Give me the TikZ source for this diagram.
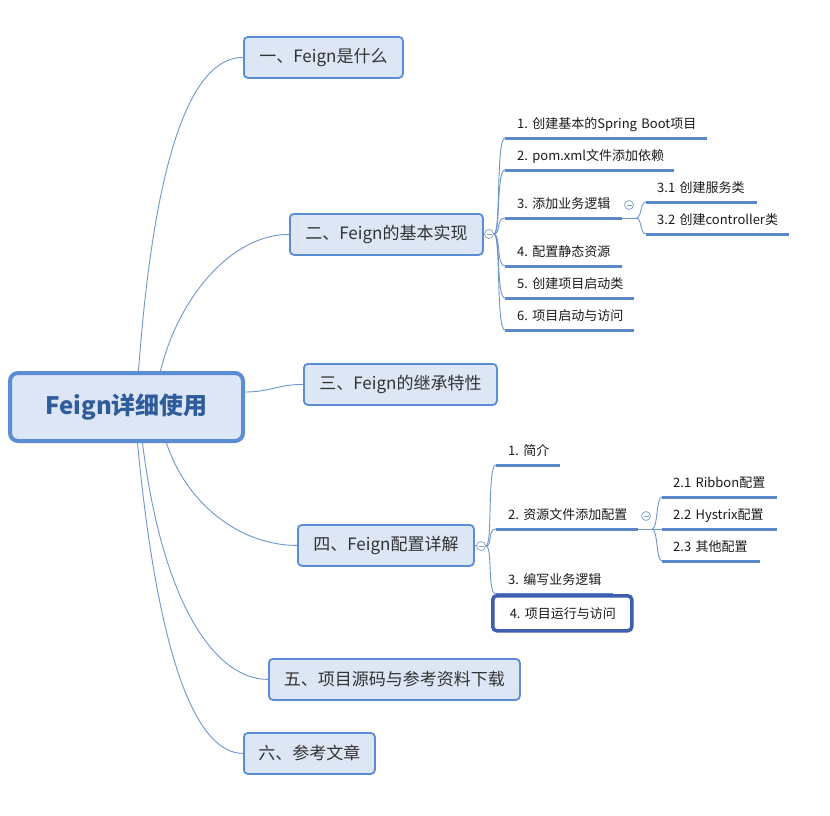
\documentclass[tikz,border=0pt]{standalone}
\usepackage{fontspec}
\setmainfont{Noto Sans CJK SC}
\frenchspacing
\begin{document}
\begin{tikzpicture}[x=1pt,y=-1pt,
  mainbox/.style={draw=nodeborder, fill=nodefill, line width=1.8pt, rounded corners=4pt,
    anchor=north west, inner sep=0pt, text=maintext, font=\fontsize{17}{20}\selectfont},
  rootbox/.style={draw=nodeborder, fill=nodefill, line width=4pt, rounded corners=8pt,
    anchor=north west, inner sep=0pt, text=roottext, font=\fontsize{24}{28}\selectfont\bfseries},
  sub/.style={anchor=south west, inner xsep=0pt, inner ysep=6pt, align=left, text width=#1,
    text height=10pt, text depth=3pt, font=\fontsize{13}{15}\selectfont\frenchspacing, text=subtext},
  ul/.style={draw=ulcolor, line width=3pt},
  spine/.style={draw=linecolor, line width=0.9pt},
  coll/.style={circle, draw=collcolor, fill=white, line width=0.8pt, minimum size=9pt, inner sep=0pt,
    path picture={\draw[collcolor, line width=0.8pt] ([xshift=-2.5pt]path picture bounding box.center) -- ([xshift=2.5pt]path picture bounding box.center);}},
  selbox/.style={draw=selcolor, fill=white, line width=3.5pt, rounded corners=4pt, anchor=north west,
    inner xsep=0pt, inner ysep=0pt, align=left, text width=139pt, minimum height=35pt,
    font=\fontsize{13}{15}\selectfont\frenchspacing, text=subtext}
]
\definecolor{nodefill}{HTML}{DCE6F4}
\definecolor{nodeborder}{HTML}{5B8DD4}
\definecolor{roottext}{HTML}{2F5C9A}
\definecolor{maintext}{HTML}{333333}
\definecolor{subtext}{HTML}{1A1A1A}
\definecolor{linecolor}{HTML}{7097CC}
\definecolor{ulcolor}{HTML}{5A88C9}
\definecolor{collcolor}{HTML}{8AA6CF}
\definecolor{selcolor}{HTML}{3D5FAE}

\fill[white] (0,0) rectangle (830,815);
\useasboundingbox (0,0) rectangle (830,815);

% root and main topics
\node[rootbox, minimum width=233pt, minimum height=68pt] (r) at (8,371) {Feign详细使用};
\node[mainbox, minimum width=159pt, minimum height=41pt] (n1) at (243,36) {一、Feign是什么};
\node[mainbox, minimum width=193pt, minimum height=41pt] (n2) at (289,213) {二、Feign的基本实现};
\node[mainbox, minimum width=193pt, minimum height=41pt] (n3) at (303,363) {三、Feign的继承特性};
\node[mainbox, minimum width=176pt, minimum height=41pt] (n4) at (297,524) {四、Feign配置详解};
\node[mainbox, minimum width=251pt, minimum height=41pt] (n5) at (268,658) {五、项目源码与参考资料下载};
\node[mainbox, minimum width=131pt, minimum height=41pt] (n6) at (243,732) {六、参考文章};

% main connectors
\draw[spine] ([xshift=12pt]r.north) .. controls +(14,-191) and +(-58,0) .. (n1.west);
\draw[spine] ([xshift=34pt]r.north) .. controls +(17,-71) and +(-59,0) .. (n2.west);
\draw[spine] ([yshift=15pt]r.east) .. controls +(25,0) and +(-25,0) .. (n3.west);
\draw[spine] ([xshift=40pt]r.south) .. controls +(20,61) and +(-57,0) .. (n4.west);
\draw[spine] ([xshift=16pt]r.south) .. controls +(20,161) and +(-53,0) .. (n5.west);
\draw[spine] ([xshift=11pt]r.south) .. controls +(20,211) and +(-48,0) .. (n6.west);

% ---- branch 二 ----
\node[coll] (c2) at (489,234) {};
\draw[spine] (n2.east) -- (c2.west);
\node[sub=202pt] (s1) at (505,138) {\hspace*{12pt}1. 创建基本的Spring Boot项目};
\node[sub=169pt] (s2) at (505,170) {\hspace*{12pt}2. pom.xml文件添加依赖};
\node[sub=117pt] (s3) at (505,218) {\hspace*{12pt}3. 添加业务逻辑};
\node[sub=117pt] (s4) at (505,266) {\hspace*{12pt}4. 配置静态资源};
\node[sub=129pt] (s5) at (505,298) {\hspace*{12pt}5. 创建项目启动类};
\node[sub=129pt] (s6) at (505,330) {\hspace*{12pt}6. 项目启动与访问};
\foreach \s in {s1,s2,s3,s4,s5,s6}{
  \draw[spine] (c2.east) .. controls +(7,0) and +(-9,0) .. (\s.south west);
  \draw[ul] (\s.south west) -- (\s.south east);
}
\coordinate (j3) at (636,218);
\node[coll] (c3) at (629,205) {};
\node[sub=111pt] (s31) at (646,202) {\hspace*{11pt}3.1 创建服务类};
\node[sub=143pt] (s32) at (646,234) {\hspace*{11pt}3.2 创建controller类};
\draw[spine] (s3.south east) -- (j3);
\foreach \s in {s31,s32}{
  \draw[spine] (j3) .. controls +(6,0) and +(-6,0) .. (\s.south west);
  \draw[ul] (\s.south west) -- (\s.south east);
}

% ---- branch 四 ----
\node[coll] (c4) at (481,546) {};
\draw[spine] (n4.east) -- (c4.west);
\node[sub=64pt] (s41) at (496,465) {\hspace*{12pt}1. 简介};
\node[sub=142pt] (s42) at (496,529) {\hspace*{12pt}2. 资源文件添加配置};
\node[sub=117pt] (s43) at (496,594) {\hspace*{12pt}3. 编写业务逻辑};
\foreach \s in {s41,s42,s43}{
  \draw[spine] (c4.east) .. controls +(7,0) and +(-9,0) .. (\s.south west);
  \draw[ul] (\s.south west) -- (\s.south east);
}
\node[selbox] (s44) at (491,594) {\hspace*{17pt}4. 项目运行与访问};

\coordinate (j42) at (652,529);
\node[coll] (c42) at (646,516) {};
\node[sub=115pt] (s421) at (662,497) {\hspace*{11pt}2.1 Ribbon配置};
\node[sub=115pt] (s422) at (662,529) {\hspace*{11pt}2.2 Hystrix配置};
\node[sub=98pt] (s423) at (662,561) {\hspace*{11pt}2.3 其他配置};
\draw[spine] (s42.south east) -- (j42);
\foreach \s in {s421,s422,s423}{
  \draw[spine] (j42) .. controls +(6,0) and +(-6,0) .. (\s.south west);
  \draw[ul] (\s.south west) -- (\s.south east);
}
\end{tikzpicture}
\end{document}
